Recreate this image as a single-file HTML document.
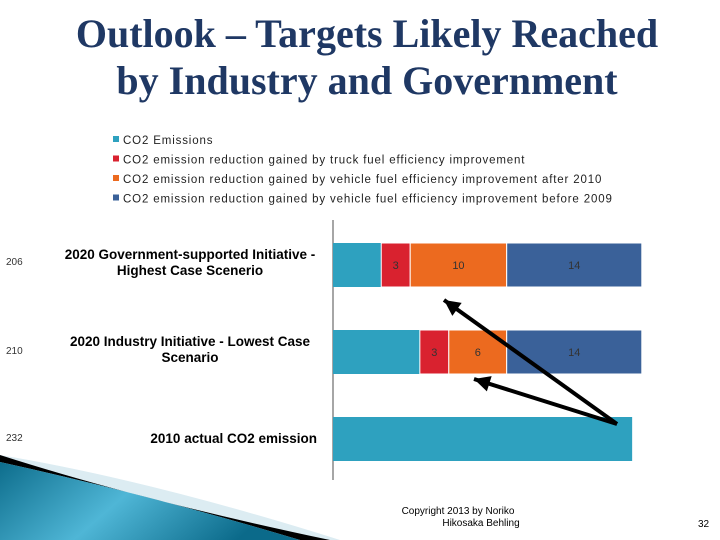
<!DOCTYPE html>
<html><head><meta charset="utf-8"><style>
body{margin:0;width:720px;height:540px;overflow:hidden;background:#fff;position:relative;font-family:"Liberation Sans","DejaVu Sans",sans-serif}
</style></head><body>
<svg width="720" height="540" style="position:absolute;left:0;top:0">
<defs>
<linearGradient id="g" x1="0" y1="0" x2="1" y2="0.3"><stop offset="0" stop-color="#0d6d8c"/><stop offset="0.5" stop-color="#4fb6d6"/><stop offset="1" stop-color="#0b6a8a"/></linearGradient>
</defs>
<g>
<path d="M0,455 Q150,480 340,540 L0,540Z" fill="#dcecf2"/>
<path d="M0,455 Q140,500 330,540 L300,540 Q150,495 0,462Z" fill="#000"/>
<path d="M0,462 Q150,495 300,540 L0,540Z" fill="url(#g)"/>
</g>
<text x="367" y="47" text-anchor="middle" font-family="Liberation Serif,serif" font-weight="bold" font-size="40" fill="#1f3864">Outlook – Targets Likely Reached</text>
<text x="367" y="94" text-anchor="middle" font-family="Liberation Serif,serif" font-weight="bold" font-size="40" fill="#1f3864">by Industry and Government</text>
<g id="legend"></g>
<g id="chart"></g>
<text x="458" y="514" text-anchor="middle" font-size="10" fill="#000">Copyright 2013 by Noriko</text>
<text x="481" y="526" text-anchor="middle" font-size="10" fill="#000">Hikosaka Behling</text>
<text x="698" y="527" font-size="10" fill="#000">32</text>
</svg>
<script>
const categories=["2020 Government-supported Initiative -|Highest Case Scenerio","2020 Industry Initiative - Lowest Case|Scenario","2010 actual CO2 emission"];
const baseValues=[206,210,232];
const truckValues=[3,3,0];
const afterValues=[10,6,0];
const beforeValues=[14,14,0];
const seriesNames=["CO2 Emissions","CO2 emission reduction gained by truck fuel efficiency improvement","CO2 emission reduction gained by vehicle fuel efficiency improvement after 2010","CO2 emission reduction gained by vehicle fuel efficiency improvement before 2009"];
const colors=["#2ea1bf","#d9222f","#ec6a1f","#3a6199"];
const NS="http://www.w3.org/2000/svg";
const chart=document.getElementById('chart'),legend=document.getElementById('legend');
const x0=333,xmin=201,ppu=9.65;
function xs(v){return x0+(Math.max(v,xmin)-xmin)*ppu;}
function ys(i){return 243+i*87;}
function mk(tag,at,parent){const e=document.createElementNS(NS,tag);for(const k in at)e.setAttribute(k,at[k]);parent.appendChild(e);return e;}
seriesNames.forEach((n,i)=>{
  const y=140+i*19.5;
  const r=mk('rect',{x:113,y:y-4,width:6,height:6,fill:colors[i]},legend);
  
  
  const t=mk('text',{x:123,y:y+4,'font-size':'11.5','letter-spacing':'0.85',fill:'#222'},legend);
  t.textContent=n;
  
  
});
const ax=mk('line',{x1:x0,y1:220,x2:x0,y2:480,stroke:'#888','stroke-width':1.5},chart);


categories.forEach((c,i)=>{
  const y=ys(i),h=44;
  const vals=[baseValues[i],truckValues[i],afterValues[i],beforeValues[i]];
  let start=0;
  vals.forEach((v,s)=>{
    if(!v)return;
    const a=xs(start),b=xs(start+v);
    const r=mk('rect',{x:a,y:y,width:b-a,height:h,fill:colors[s],stroke:s?'#fff':'none','stroke-width':1},chart);
    
    
    if(s>0){const t=mk('text',{x:(a+b)/2,y:y+h/2+4,'text-anchor':'middle','font-size':'11',fill:'#333'},chart);t.textContent=v;
      
      }
    start+=v;
  });
  const lines=c.split('|');
  lines.forEach((l,k)=>{
    const t=mk('text',{x:lines.length>1?190:317,y:(lines.length>1?y+16:y+26)+k*16,'text-anchor':lines.length>1?'middle':'end','font-size':'13.5','font-weight':'bold',fill:'#000'},chart);
    t.textContent=l;
    
    
  });
  const tv=mk('text',{x:6,y:y+(i==2?24:i==1?24:22),'font-size':'10',fill:'#333'},chart);
  tv.textContent=baseValues[i];
  
  
});
function arrow(x1,y1,x2,y2){
  const l=mk('line',{x1,y1,x2,y2,stroke:'#000','stroke-width':4},chart);
  
  
  const a=Math.atan2(y2-y1,x2-x1),L=16,W=8;
  const bx=x2-L*Math.cos(a),by=y2-L*Math.sin(a);
  const p=mk('polygon',{points:`${x2},${y2} ${bx+W*Math.sin(a)},${by-W*Math.cos(a)} ${bx-W*Math.sin(a)},${by+W*Math.cos(a)}`,fill:'#000'},chart);
  
  
}
arrow(617,424,444,300);
arrow(617,424,474,379);
</script>
</body></html>
